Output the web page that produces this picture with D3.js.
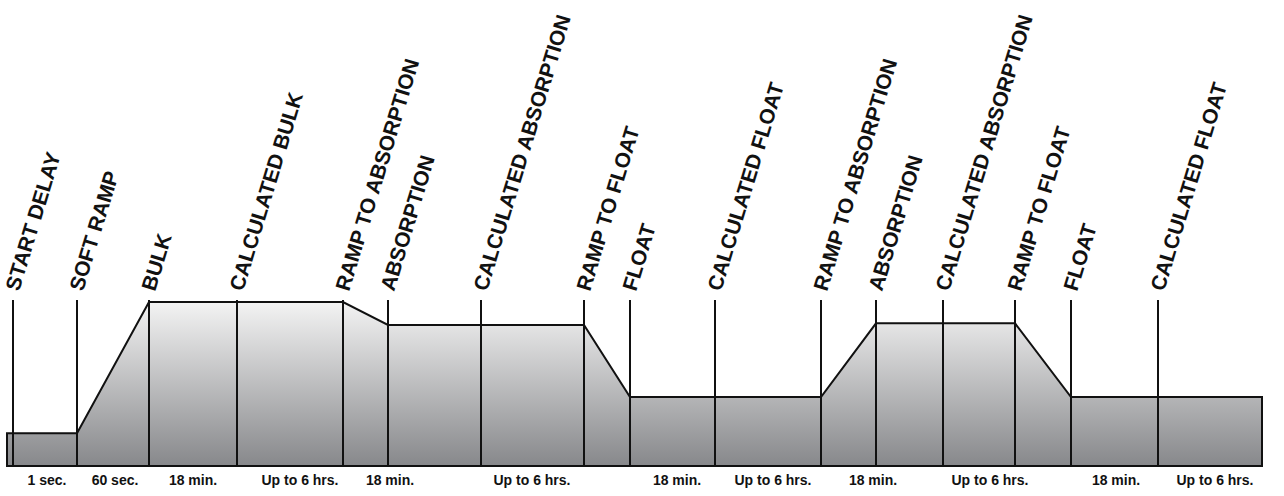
<!DOCTYPE html>
<html><head><meta charset="utf-8">
<script src="https://cdn.jsdelivr.net/npm/d3@7"></script>
<style>body{margin:0;background:#fff}</style>
</head><body><svg class="chart"></svg>
<script>
// stage boundaries (px-like units), profile points, labels
var stageX=[13,77,149,237,343,388,481,584,630,715,821,876,943,1015,1071,1158]
var stageNames=["START DELAY","SOFT RAMP","BULK","CALCULATED BULK","RAMP TO ABSORPTION","ABSORPTION","CALCULATED ABSORPTION","RAMP TO FLOAT","FLOAT","CALCULATED FLOAT","RAMP TO ABSORPTION","ABSORPTION","CALCULATED ABSORPTION","RAMP TO FLOAT","FLOAT","CALCULATED FLOAT"]
var profX=[7,77,149,343,388,584,630,821,876,1015,1071,1262]
var profV=[1,1,5,5,4.3,4.3,2.1,2.1,4.35,4.35,2.1,2.1]
var durX=[47,115,193,300,390,532,677,773,873,990,1116,1215]
var durText=["1 sec.","60 sec.","18 min.","Up to 6 hrs.","18 min.","Up to 6 hrs.","18 min.","Up to 6 hrs.","18 min.","Up to 6 hrs.","18 min.","Up to 6 hrs."]

var w=1284,h=496
var svg=d3.select(".chart").attr("width",w).attr("height",h)
var x=d3.scaleLinear().domain([0,1284]).range([0,1284])
var y=d3.scaleLinear().domain([0,5]).range([466,302])
var font="'Liberation Sans Narrow','Arial Narrow','Liberation Sans',sans-serif"

var g=svg.append("defs").append("linearGradient").attr("id","gr")
    .attr("gradientUnits","userSpaceOnUse").attr("x1",0).attr("x2",0).attr("y1",y(5)).attr("y2",y(0))
g.append("stop").attr("offset",0).attr("stop-color","#f3f3f3")
g.append("stop").attr("offset",1).attr("stop-color","#87888b")

var pts=profX.map(function(d,i){return [x(d),y(profV[i])]})
pts.push([x(profX[profX.length-1]),y(0)]); pts.push([x(profX[0]),y(0)])
svg.append("path").attr("d",d3.line()(pts)+"Z").attr("fill","url(#gr)")
    .attr("stroke","#111").attr("stroke-width",2).attr("stroke-linejoin","miter")

svg.selectAll(".v").data(stageX).enter().append("line")
    .attr("x1",function(d){return x(d)}).attr("x2",function(d){return x(d)})
    .attr("y1",y(5)-2).attr("y2",y(0)).attr("stroke","#111").attr("stroke-width",2)

svg.selectAll(".n").data(stageNames).enter().append("text")
    .attr("transform",function(d,i){return "translate("+(x(stageX[i])+6)+",292) rotate(-73)"})
    .attr("font-family",font).attr("font-weight","bold").attr("font-size",21)
    .attr("fill","#111").text(function(d){return d})

svg.selectAll(".d").data(durText).enter().append("text")
    .attr("x",function(d,i){return x(durX[i])}).attr("y",485)
    .attr("text-anchor","middle").attr("font-family","'Liberation Sans',Arial,sans-serif")
    .attr("font-weight","bold").attr("font-size",14).attr("fill","#111").text(function(d){return d})
</script></body></html>
